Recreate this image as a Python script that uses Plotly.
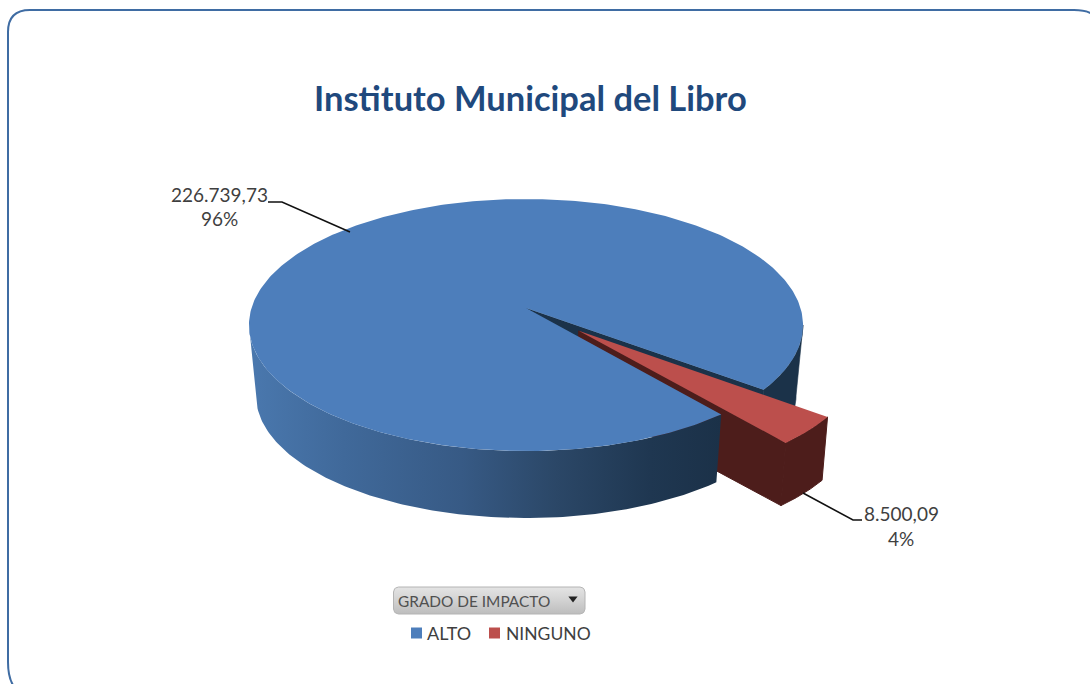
import numpy as np
import plotly.graph_objects as go

# ---- data ----
categories = ["ALTO", "NINGUNO"]
values = [226739.73, 8500.09]
value_labels = ["226.739,73", "8.500,09"]
title_text = "Instituto Municipal del Libro"
filter_text = "GRADO DE IMPACTO"

# ---- style / projection of the 3D pie (pixel space) ----
BLUE, RED = "#4d7ebb", "#bc4f4c"
NAVY, DKRED = "#1b3249", "#4d1d1b"
TXT = "#3f3f3f"
CX, K = 526.0, 0.135
TOP = dict(cy=308.0, A=123.7, B=274.5)
BOT = dict(cy=378.6, A=120.6, B=267.6)
BOT_RED = dict(cy=374.0, A=120.6, B=269.5)
EXPLODE = 0.26
ROT = -37.4

total = sum(values)
shares = [v / total for v in values]
red_a0 = ROT
red_a1 = ROT - 360 * shares[1]
red_mid = np.radians((red_a0 + red_a1) / 2)
OFF = (EXPLODE * np.cos(red_mid), EXPLODE * np.sin(red_mid))
TANGENT = np.degrees(np.arcsin(K))
LEFT_TANGENT = -180 + TANGENT
RIGHT_TANGENT = -TANGENT


def proj(u, v, p):
    u, v = np.asarray(u, float), np.asarray(v, float)
    w = 1 + K * v
    return CX + p["B"] * u / w, p["cy"] - p["A"] * v / w


def arc(a0, a1, p, off=(0, 0), n=120):
    t = np.radians(np.linspace(a0, a1, n))
    return proj(np.cos(t) + off[0], np.sin(t) + off[1], p)


def centre(p, off=(0, 0)):
    x, y = proj([off[0]], [off[1]], p)
    return x, y


def poly(parts, color=None, gradient=None, edge=0):
    xs = np.concatenate([p[0] for p in parts])
    ys = np.concatenate([p[1] for p in parts])
    d = dict(x=np.r_[xs, xs[0]], y=np.r_[ys, ys[0]], mode="lines", fill="toself",
             hoverinfo="skip", showlegend=False)
    d["line"] = dict(width=edge, color=color) if edge else dict(width=0)
    if gradient:
        d["fillgradient"] = gradient
        d["fillcolor"] = "rgba(0,0,0,0)"
    else:
        d["fillcolor"] = color
    return go.Scatter(**d)


def rev(a):
    return a[0][::-1], a[1][::-1]


def wall(a0, a1, off=(0, 0), bot=BOT):
    return [arc(a0, a1, TOP, off), rev(arc(a0, a1, bot, off))]


def cut(a, off=(0, 0), bot=BOT):
    t = np.radians(a)
    e = (np.array([0.0, np.cos(t)]) + off[0], np.array([0.0, np.sin(t)]) + off[1])
    return [proj(e[0], e[1], TOP), proj(e[0][::-1], e[1][::-1], bot)]


fig = go.Figure()

# back-right navy wall and the upper cut face of the big slice
fig.add_trace(poly(wall(RIGHT_TANGENT, red_a0), NAVY, edge=0.6))
fig.add_trace(poly(cut(red_a0), NAVY, edge=0.6))

# exploded slice: side faces
fig.add_trace(poly(wall(red_a0, red_a1, OFF, BOT_RED), DKRED, edge=1))
fig.add_trace(poly(cut(red_a1, OFF, BOT_RED), DKRED, edge=1))

# front wall of the big slice with its shading
fig.add_trace(poly(wall(red_a1, LEFT_TANGENT), gradient=dict(
    type="horizontal",
    colorscale=[[0, "#4a78ae"], [0.2, "#40699a"], [0.45, "#375a85"],
                [0.65, "#2b4767"], [0.85, "#1f3751"], [1, "#1b3148"]])))

# top faces
fig.add_trace(poly([centre(TOP), arc(red_a1, red_a1 - 360 * shares[0], TOP, n=400)], BLUE))
fig.add_trace(poly([centre(TOP, OFF), arc(red_a0, red_a1, TOP, OFF)], RED))

# leader lines
fig.add_trace(go.Scatter(x=[268, 282, 350], y=[202, 202, 232], mode="lines",
                         line=dict(color="#111111", width=1.6), hoverinfo="skip", showlegend=False))
fig.add_trace(go.Scatter(x=[803, 853, 862], y=[493, 520, 520], mode="lines",
                         line=dict(color="#111111", width=1.6), hoverinfo="skip", showlegend=False))

# filter button
bx0, bx1, by0, by1, br = 393.5, 585.0, 587.0, 614.0, 5.0
q = np.linspace(0, np.pi / 2, 8)
btn_x = np.r_[bx0 + br - br * np.cos(q), bx1 - br + br * np.sin(q), bx1 - br + br * np.cos(q), bx0 + br - br * np.sin(q)]
btn_y = np.r_[by0 + br - br * np.sin(q), by0 + br - br * np.cos(q), by1 - br + br * np.sin(q), by1 - br + br * np.cos(q)]
fig.add_trace(go.Scatter(x=np.r_[btn_x, btn_x[0]], y=np.r_[btn_y, btn_y[0]], mode="lines", fill="toself",
                         line=dict(color="#b4b4b4", width=1), fillcolor="rgba(0,0,0,0)",
                         fillgradient=dict(type="vertical", colorscale=[[0, "#bdbdbd"], [0.5, "#d2d2d2"], [1, "#e4e4e4"]]),
                         hoverinfo="skip", showlegend=False))
fig.add_trace(go.Scatter(x=[573], y=[598.5], mode="markers",
                         marker=dict(symbol="triangle-down", size=8, color="#222222"),
                         hoverinfo="skip", showlegend=False))

# legend
fig.add_trace(go.Scatter(x=[416.5, 494.5], y=[633, 633], mode="markers",
                         marker=dict(symbol="square", size=11, color=[BLUE, RED]),
                         hoverinfo="skip", showlegend=False))


def note(x, y, text, size, color=TXT, bold=False, anchor="center"):
    fig.add_annotation(x=x, y=y, xref="x", yref="y", text=f"<b>{text}</b>" if bold else text,
                       showarrow=False, font=dict(family="Lato", size=size, color=color),
                       xanchor=anchor, yanchor="middle")


note(530, 97, title_text, 34.5, "#1f497d", True)
note(219.5, 194, value_labels[0], 19)
note(219.5, 218, f"{shares[0]:.0%}", 19)
note(901, 513, value_labels[1], 19)
note(901, 538, f"{shares[1]:.0%}", 19)
note(474, 600.5, filter_text, 15.4, "#505050")
note(425, 633, categories[0], 18, anchor="left")
note(504, 633, categories[1], 17.5, anchor="left")

frame = "M 8,32 Q 8,10 30,10 L 1074,10 Q 1096,10 1100,24 L 1100,695 L 26,695 Q 8,690 8,662 Z"
fig.update_layout(
    width=1090, height=684, margin=dict(l=0, r=0, t=0, b=0, pad=0),
    paper_bgcolor="white", plot_bgcolor="white", showlegend=False, hovermode=False,
    xaxis=dict(range=[0, 1090], visible=False, fixedrange=True),
    yaxis=dict(range=[684, 0], visible=False, fixedrange=True),
    shapes=[dict(type="path", path=frame, xref="x", yref="y",
                 line=dict(color="#3f6ca3", width=2), layer="below")],
)
fig.write_html("out.html", config=dict(displayModeBar=False),
               post_script="document.body.style.margin='0';document.documentElement.style.overflow='hidden';")
